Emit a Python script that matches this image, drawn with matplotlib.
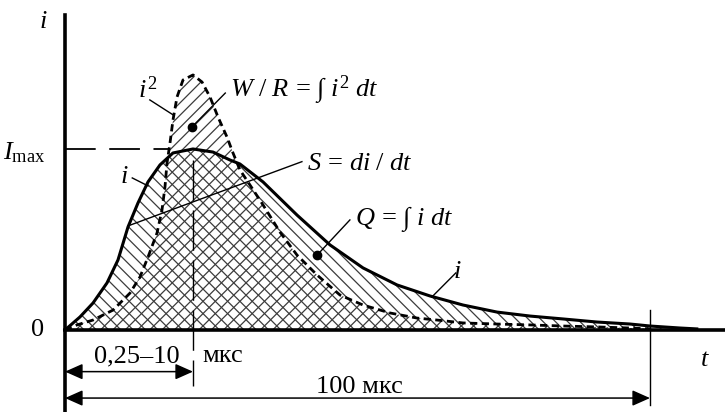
import numpy as np
import matplotlib
matplotlib.use('Agg')
import matplotlib.pyplot as plt
import matplotlib.patches as patches
from matplotlib.collections import LineCollection

plt.rcParams['font.family'] = ['Liberation Serif', 'DejaVu Serif']
plt.rcParams['mathtext.fontset'] = 'custom'
plt.rcParams['mathtext.rm'] = 'Liberation Serif'
plt.rcParams['mathtext.it'] = 'Liberation Serif:italic'
plt.rcParams['mathtext.bf'] = 'Liberation Serif:bold'

# current pulse i(t), t in microseconds, i relative to Imax
t_i = [0, 2.56, 4.79, 7.18, 9.06, 10.77, 12.48, 14.19, 16.24, 18.46, 21.88,
       25.30, 28.21, 29.91, 33.85, 39.66, 45.30, 50.94, 56.75, 62.39, 68.03,
       73.85, 79.49, 85.13, 90.94, 96.58, 100.0, 105.1, 108.0]
i_vals = [0, 0.072, 0.149, 0.260, 0.387, 0.569, 0.702, 0.818, 0.912, 0.978, 1.0,
          0.983, 0.939, 0.917, 0.818, 0.635, 0.470, 0.343, 0.249, 0.188, 0.138,
          0.099, 0.077, 0.061, 0.044, 0.033, 0.022, 0.011, 0.006]

# squared current i^2 (schematic scale)
t_sq = [0, 2.05, 4.79, 8.21, 11.11, 12.82, 14.19, 15.73, 16.58, 17.09, 17.44,
        17.95, 18.46, 19.15, 20.17, 21.88, 23.42, 24.79, 26.15, 27.69, 28.72,
        29.91, 31.62, 33.85, 36.75, 39.66, 43.08, 47.01, 50.94, 55.56, 60.17,
        63.59, 68.03, 73.85, 79.49, 85.13, 90.94, 96.58, 100.0]
sq_vals = [0, 0.028, 0.055, 0.110, 0.204, 0.293, 0.403, 0.536, 0.663, 0.790, 0.923,
           1.033, 1.160, 1.287, 1.381, 1.409, 1.370, 1.287, 1.177, 1.066, 0.978,
           0.884, 0.801, 0.691, 0.541, 0.414, 0.304, 0.193, 0.138, 0.094, 0.066,
           0.055, 0.039, 0.033, 0.028, 0.022, 0.017, 0.011, 0.006]

t_peak = t_i[int(np.argmax(i_vals))]
t_end = 100.0

fig = plt.figure(figsize=(7.25, 4.12), dpi=100)
ax = fig.add_axes([0, 0, 1, 1])
ax.set_xlim(-11.11, 112.82)
ax.set_ylim(-0.453, 1.823)
ax.axis('off')


def hatch(tt, yy, direction, step=12.3):
    # diagonal hatch lines clipped to the area under a curve
    poly = patches.Polygon(np.column_stack([tt + [tt[-1], tt[0]], yy + [0, 0]]),
                           closed=True, facecolor='none', edgecolor='none')
    ax.add_patch(poly)
    W, H = 725.0, 412.0
    segs = []
    for c in np.arange(-H - step, W + H, step):
        x2 = c + H if direction == '/' else c - H
        segs.append([(c / W, 0), (x2 / W, 1)])
    lc = LineCollection(segs, colors='#3c3c3c', linewidths=0.9,
                        transform=ax.transAxes, zorder=1)
    lc.set_clip_path(poly)
    ax.add_collection(lc)


hatch(t_sq, sq_vals, '/')
hatch(t_i, i_vals, '\\')

ax.plot(t_i, i_vals, color='k', lw=2.2, zorder=3, solid_joinstyle='round')
ax.plot(t_sq, sq_vals, color='k', lw=2.0, dashes=(2.6, 1.6), zorder=3)

# axes
ax.plot([0, 0], [-0.453, 1.740], color='k', lw=2.6, zorder=4)
ax.plot([0, 112.82], [0, 0], color='k', lw=2.6, zorder=4)

# Imax level and rise time marker
ax.plot([0, 17.9], [1, 1], color='k', lw=1.3, dashes=(17, 7.5), zorder=2)
ax.plot([t_peak, t_peak], [0.939, -0.309], color='k', lw=1.0, dashes=(29, 7), zorder=2)
ax.plot([t_end, t_end], [0.110, -0.414], color='k', lw=1.0, zorder=2)

arrow = dict(arrowstyle='<|-|>,head_length=0.45,head_width=0.2', color='k',
             lw=1.1, mutation_scale=24, shrinkA=0, shrinkB=0)
ax.annotate('', xy=(t_peak, -0.230), xytext=(0, -0.230), arrowprops=arrow)
ax.annotate('', xy=(t_end, -0.376), xytext=(0, -0.376), arrowprops=arrow)

fs = 19
ax.text(-3.76, 1.702, r'$i$', fontsize=fs, ha='center', va='center')
ax.text(-4.62, 0.0, '0', fontsize=fs, ha='center', va='center')
ax.text(-3.42, 0.978, r'$I_{\mathrm{max}}$', fontsize=fs, ha='right', va='center')
ax.text(109.4, -0.166, r'$t$', fontsize=fs, ha='center', va='center')

ax.text(12.3, -0.177, '0,25–10', fontsize=fs, ha='center', va='baseline')
ax.text(23.4, -0.177, 'мкс', fontsize=fs, ha='left', va='baseline')
ax.text(50.3, -0.348, '100 мкс', fontsize=fs, ha='center', va='baseline')

# curve labels with leader lines
ax.text(12.48, 1.282, r'$i^2$', fontsize=fs, ha='left', va='baseline')
ax.plot([14.5, 18.5], [1.271, 1.188], color='k', lw=1.0, zorder=5)

ax.text(28.2, 1.287, r'$W\ /\ R\,=\,∫\ i^2\ dt$', fontsize=fs, ha='left', va='baseline')
ax.plot([27.4, 21.7], [1.309, 1.122], color='k', lw=1.0, zorder=5)
ax.plot([21.7], [1.122], 'o', color='k', ms=6, zorder=5)

ax.text(9.4, 0.812, r'$i$', fontsize=fs, ha='left', va='baseline')
ax.plot([11.5, 14.2], [0.840, 0.796], color='k', lw=1.0, zorder=5)

ax.text(41.4, 0.884, r'$S\,=\,di\ /\ dt$', fontsize=fs, ha='left', va='baseline')
ax.plot([10.77, 40.5], [0.575, 0.930], color='k', lw=1.0, zorder=5)

ax.text(49.6, 0.580, r'$Q\,=\,∫\ i\ dt$', fontsize=fs, ha='left', va='baseline')
ax.plot([48.7, 43.1], [0.608, 0.414], color='k', lw=1.0, zorder=5)
ax.plot([43.1], [0.414], 'o', color='k', ms=6, zorder=5)

ax.text(66.3, 0.287, r'$i$', fontsize=fs, ha='left', va='baseline')
ax.plot([66.8, 62.7], [0.315, 0.182], color='k', lw=1.0, zorder=5)

fig.savefig('out.png', dpi=100, facecolor='white')
